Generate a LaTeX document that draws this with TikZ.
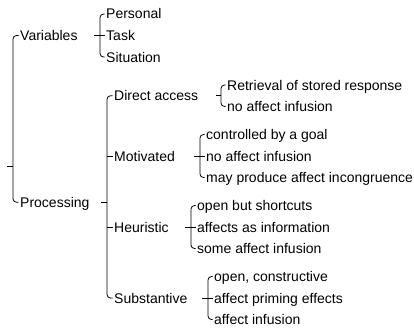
\documentclass[tikz,border=0pt]{standalone}
\usepackage{fontspec}
\setmainfont{Liberation Sans}
\begin{document}
\begin{tikzpicture}[x=1pt,y=-1pt,
  lbl/.style={anchor=west,inner sep=0pt,text height=10pt,text depth=0pt,
              font=\fontsize{14}{16}\selectfont},
  link/.style={line width=0.8pt,rounded corners=3.5pt},
  tick/.style={line width=0.8pt},
]
\useasboundingbox (0,0) rectangle (414,329);

% first level
\node[lbl] (var)  at (20,35.5)   {Variables};
\node[lbl] (proc) at (20,202.25) {Processing};

% kinds of variables
\node[lbl] (pers) at (106,14)   {Personal};
\node[lbl] (task) at (106,35.5) {Task};
\node[lbl] (sit)  at (106,57)   {Situation};

% processing strategies
\node[lbl] (dir) at (114,95.75) {Direct access};
\node[lbl] (mot) at (114,156)   {Motivated};
\node[lbl] (heu) at (114,227)   {Heuristic};
\node[lbl] (sub) at (114,298)   {Substantive};

% properties of each strategy
\node[lbl] (d1) at (227,85)    {Retrieval of stored response};
\node[lbl] (d2) at (227,106.5) {no affect infusion};
\node[lbl] (m1) at (206,134.5) {controlled by a goal};
\node[lbl] (m2) at (206,156)   {no affect infusion};
\node[lbl] (m3) at (206,177.5) {may produce affect incongruence};
\node[lbl] (h1) at (197,205.5) {open but shortcuts};
\node[lbl] (h2) at (197,227)   {affects as information};
\node[lbl] (h3) at (197,248.5) {some affect infusion};
\node[lbl] (s1) at (214,276.5) {open, constructive};
\node[lbl] (s2) at (214,298)   {affect priming effects};
\node[lbl] (s3) at (214,319.5) {affect infusion};

% bracket junctions
\coordinate (rootj) at (13,166.75);
\coordinate (varj)  at (100,35.5);
\coordinate (procj) at (107,202.25);
\coordinate (dirj)  at (221,95.75);
\coordinate (motj)  at (200,156);
\coordinate (heuj)  at (191,227);
\coordinate (subj)  at (208,298);

% root bracket
\draw[link] ([xshift=-1.5pt]var.west) -| (rootj) |- ([xshift=-1.5pt]proc.west);
\draw[tick] (rootj) -- ([xshift=-6pt]rootj);

% Variables bracket
\draw[link] ([xshift=-1.5pt]pers.west) -| (varj) |- ([xshift=-1.5pt]sit.west);
\draw[tick] ([xshift=-6pt]varj) -- ([xshift=-1.5pt]task.west);

% Processing bracket
\draw[link] ([xshift=-1.5pt]dir.west) -| (procj) |- ([xshift=-1.5pt]sub.west);
\draw[tick] (procj) -- ([xshift=-6pt]procj);
\draw[tick] (mot.west -| procj) -- ([xshift=-1.5pt]mot.west);
\draw[tick] (heu.west -| procj) -- ([xshift=-1.5pt]heu.west);

% Direct access bracket
\draw[link] ([xshift=-1.5pt]d1.west) -| (dirj) |- ([xshift=-1.5pt]d2.west);
\draw[tick] (dirj) -- ([xshift=-5pt]dirj);

% Motivated bracket
\draw[link] ([xshift=-1.5pt]m1.west) -| (motj) |- ([xshift=-1.5pt]m3.west);
\draw[tick] ([xshift=-6pt]motj) -- ([xshift=-1.5pt]m2.west);

% Heuristic bracket
\draw[link] ([xshift=-1.5pt]h1.west) -| (heuj) |- ([xshift=-1.5pt]h3.west);
\draw[tick] ([xshift=-6pt]heuj) -- ([xshift=-1.5pt]h2.west);

% Substantive bracket
\draw[link] ([xshift=-1.5pt]s1.west) -| (subj) |- ([xshift=-1.5pt]s3.west);
\draw[tick] ([xshift=-6pt]subj) -- ([xshift=-1.5pt]s2.west);
\end{tikzpicture}
\end{document}
